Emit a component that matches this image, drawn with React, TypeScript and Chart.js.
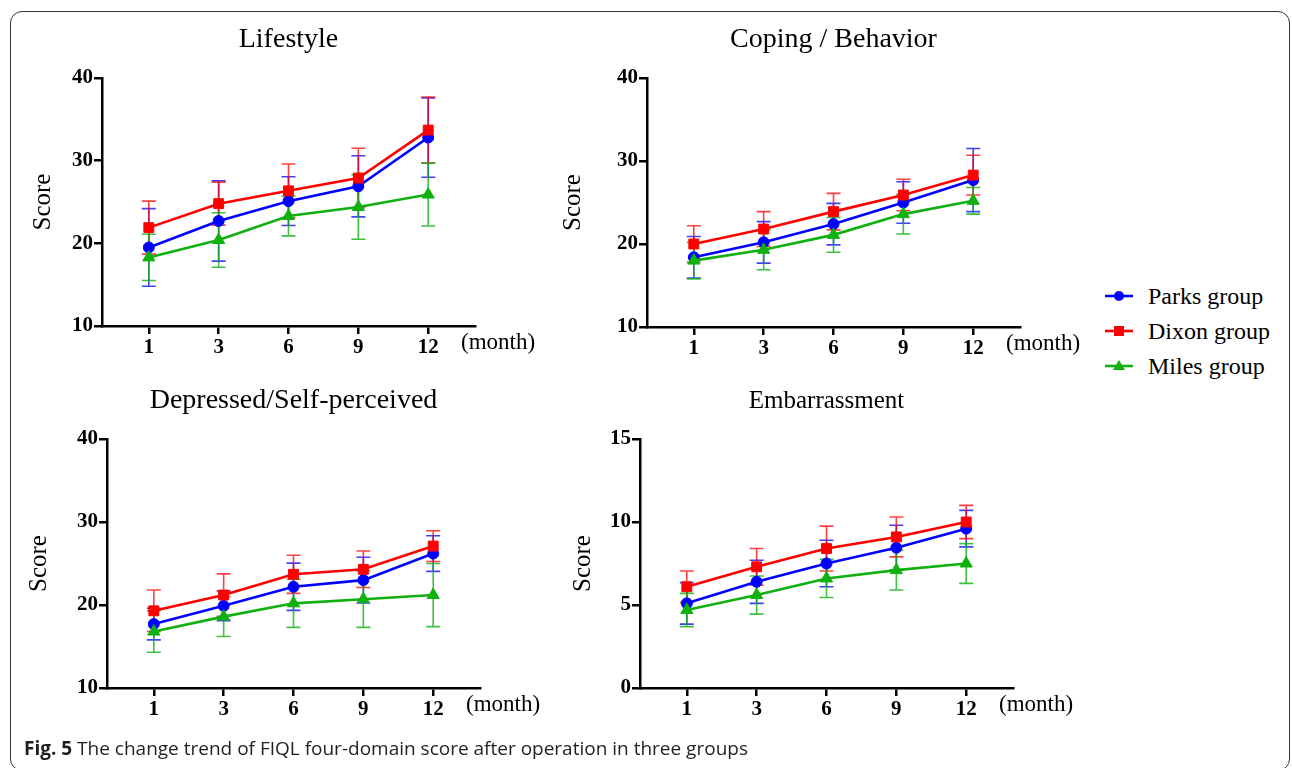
import React, { useEffect, useRef } from 'react';
import { Chart, registerables } from 'chart.js';

Chart.register(...registerables);

// ---------- data ----------
const months = ['1', '3', '6', '9', '12'];
const groupNames = ['Parks group', 'Dixon group', 'Miles group'];

const lifestyleParks = [19.5, 22.7, 25.1, 26.9, 32.8];
const lifestyleParksSD = [4.7, 4.85, 2.95, 3.7, 4.8];
const lifestyleDixon = [21.9, 24.8, 26.35, 27.9, 33.7];
const lifestyleDixonSD = [3.2, 2.6, 3.25, 3.6, 4.0];
const lifestyleMiles = [18.3, 20.4, 23.3, 24.4, 25.9];
const lifestyleMilesSD = [2.8, 3.3, 2.4, 3.9, 3.8];

const copingParks = [18.4, 20.2, 22.4, 25.0, 27.7];
const copingParksSD = [2.5, 2.5, 2.5, 2.5, 3.8];
const copingDixon = [20.0, 21.8, 23.9, 25.9, 28.3];
const copingDixonSD = [2.2, 2.1, 2.2, 1.9, 2.4];
const copingMiles = [18.0, 19.3, 21.1, 23.6, 25.2];
const copingMilesSD = [2.2, 2.4, 2.1, 2.4, 1.6];

const depressedParks = [17.7, 19.9, 22.2, 23.0, 26.2];
const depressedParksSD = [1.9, 1.8, 2.85, 2.75, 2.15];
const depressedDixon = [19.3, 21.2, 23.7, 24.3, 27.1];
const depressedDixonSD = [2.5, 2.55, 2.3, 2.2, 1.85];
const depressedMiles = [16.8, 18.6, 20.2, 20.7, 21.2];
const depressedMilesSD = [2.5, 2.4, 2.9, 3.4, 3.8];

const embarParks = [5.1, 6.4, 7.5, 8.45, 9.6];
const embarParksSD = [1.25, 1.3, 1.4, 1.35, 1.1];
const embarDixon = [6.1, 7.3, 8.4, 9.1, 10.0];
const embarDixonSD = [0.95, 1.1, 1.35, 1.2, 1.0];
const embarMiles = [4.7, 5.6, 6.6, 7.1, 7.5];
const embarMilesSD = [1.0, 1.15, 1.15, 1.2, 1.2];

const lifestyleTicks = [10, 20, 30, 40];
const copingTicks = [10, 20, 30, 40];
const depressedTicks = [10, 20, 30, 40];
const embarTicks = [0, 5, 10, 15];

// ---------- styles ----------
const COLORS = ['#0000FF', '#FF0000', '#10B010'];
const ERR_COLORS = ['rgba(0,0,255,0.75)', 'rgba(255,0,0,0.75)', 'rgba(16,176,16,0.8)'];
const POINT_STYLES = ['circle', 'rect', 'triangle'];
const POINT_RADII = [5.5, 7, 7];
const DRAW_ORDER = [2, 0, 1];
const SERIF = '"Liberation Serif", "Times New Roman", serif';

type PanelCfg = {
  title: string;
  titleSize: number;
  series: number[][];
  errors: number[][];
  yTicks: number[];
  canvasLeft: number;
  canvasTop: number;
  width: number;
  height: number;
  areaLeft: number;
  areaRight: number;
  areaTop: number;
  areaBottom: number;
  scoreOffset: number;
};

const errorBarsPlugin = {
  id: 'errorBars',
  beforeDatasetsDraw(chart: any) {
    const { ctx } = chart;
    const yScale = chart.scales.y;
    ctx.save();
    chart.data.datasets.forEach((ds: any, di: number) => {
      const meta = chart.getDatasetMeta(di);
      ctx.strokeStyle = ERR_COLORS[di];
      ctx.lineWidth = 1.6;
      meta.data.forEach((pt: any, i: number) => {
        const v = ds.data[i].y;
        const e = ds.errors[i];
        const yTop = yScale.getPixelForValue(v + e);
        const yBot = yScale.getPixelForValue(v - e);
        const x = pt.x;
        ctx.beginPath();
        ctx.moveTo(x, yTop);
        ctx.lineTo(x, yBot);
        ctx.moveTo(x - 7, yTop);
        ctx.lineTo(x + 7, yTop);
        ctx.moveTo(x - 7, yBot);
        ctx.lineTo(x + 7, yBot);
        ctx.stroke();
      });
    });
    ctx.restore();
  },
};

function makeTextPlugin(cfg: PanelCfg) {
  return {
    id: 'panelText',
    afterDraw(chart: any) {
      const { ctx, chartArea } = chart;
      ctx.save();
      ctx.fillStyle = '#000';
      ctx.textBaseline = 'middle';
      ctx.textAlign = 'center';
      ctx.font = `${cfg.titleSize}px ${SERIF}`;
      ctx.fillText(cfg.title, (chartArea.left + chartArea.right) / 2, chartArea.top - 38);
      ctx.textAlign = 'left';
      ctx.font = `23px ${SERIF}`;
      ctx.fillText('(month)', chartArea.right - 14, chartArea.bottom + 17);
      ctx.restore();
    },
  };
}

function Panel({ cfg }: { cfg: PanelCfg }) {
  const ref = useRef<HTMLCanvasElement | null>(null);
  useEffect(() => {
    if (!ref.current) return;
    const tickFont = { family: SERIF, size: 21, weight: 'bold' as const };
    const chart = new Chart(ref.current, {
      type: 'line',
      data: {
        datasets: cfg.series.map((vals, gi) => ({
          label: groupNames[gi],
          data: vals.map((v, i) => ({ x: i, y: v })),
          errors: cfg.errors[gi],
          borderColor: COLORS[gi],
          backgroundColor: COLORS[gi],
          pointBackgroundColor: COLORS[gi],
          pointBorderColor: COLORS[gi],
          pointBorderWidth: 1,
          pointStyle: POINT_STYLES[gi],
          pointRadius: POINT_RADII[gi],
          borderWidth: 2.6,
          tension: 0,
          order: DRAW_ORDER[gi],
        })) as any,
      },
      options: {
        responsive: false,
        animation: false,
        events: [],
        layout: {
          padding: {
            left: 0,
            top: cfg.areaTop,
            right: cfg.width - cfg.areaRight,
            bottom: 0,
          },
        },
        plugins: {
          legend: { display: false },
          tooltip: { enabled: false },
        },
        scales: {
          x: {
            type: 'linear',
            min: -0.67,
            max: months.length - 1 + 0.67,
            afterBuildTicks: (axis: any) => {
              axis.ticks = months.map((_, i) => ({ value: i }));
            },
            afterFit: (s: any) => {
              s.height = cfg.height - cfg.areaBottom;
            },
            ticks: {
              callback: (v: any) => months[v as number] ?? '',
              font: tickFont,
              color: '#000',
              padding: 1,
              maxRotation: 0,
              autoSkip: false,
            },
            grid: { drawOnChartArea: false, tickLength: 8, color: '#000', lineWidth: 2.5 },
            border: { color: '#000', width: 2.5 },
          },
          y: {
            min: cfg.yTicks[0],
            max: cfg.yTicks[cfg.yTicks.length - 1],
            afterBuildTicks: (axis: any) => {
              axis.ticks = cfg.yTicks.map((v) => ({ value: v }));
            },
            afterFit: (s: any) => {
              s.width = cfg.areaLeft;
            },
            ticks: {
              font: tickFont,
              color: '#000',
              padding: 1,
            },
            title: {
              display: true,
              text: 'Score',
              color: '#000',
              font: { family: SERIF, size: 25, weight: 'normal' as const },
              padding: { top: cfg.scoreOffset, bottom: 0 },
            },
            grid: { drawOnChartArea: false, tickLength: 8, color: '#000', lineWidth: 2.5 },
            border: { color: '#000', width: 2.5 },
          },
        },
      } as any,
      plugins: [errorBarsPlugin, makeTextPlugin(cfg)],
    });
    return () => chart.destroy();
  }, [cfg]);
  return (
    <canvas
      ref={ref}
      width={cfg.width}
      height={cfg.height}
      style={{
        position: 'absolute',
        left: cfg.canvasLeft,
        top: cfg.canvasTop,
        width: cfg.width,
        height: cfg.height,
      }}
    />
  );
}

const panels: PanelCfg[] = [
  {
    title: 'Lifestyle', titleSize: 28,
    series: [lifestyleParks, lifestyleDixon, lifestyleMiles],
    errors: [lifestyleParksSD, lifestyleDixonSD, lifestyleMilesSD],
    yTicks: lifestyleTicks,
    canvasLeft: 0, canvasTop: 0, width: 545, height: 384,
    areaLeft: 102, areaRight: 475, areaTop: 78, areaBottom: 326, scoreOffset: 28,
  },
  {
    title: 'Coping / Behavior', titleSize: 28,
    series: [copingParks, copingDixon, copingMiles],
    errors: [copingParksSD, copingDixonSD, copingMilesSD],
    yTicks: copingTicks,
    canvasLeft: 545, canvasTop: 0, width: 545, height: 384,
    areaLeft: 102, areaRight: 475, areaTop: 78, areaBottom: 327, scoreOffset: 13,
  },
  {
    title: 'Depressed/Self-perceived', titleSize: 28,
    series: [depressedParks, depressedDixon, depressedMiles],
    errors: [depressedParksSD, depressedDixonSD, depressedMilesSD],
    yTicks: depressedTicks,
    canvasLeft: 0, canvasTop: 384, width: 545, height: 384,
    areaLeft: 107, areaRight: 480, areaTop: 55, areaBottom: 304, scoreOffset: 24,
  },
  {
    title: 'Embarrassment', titleSize: 25,
    series: [embarParks, embarDixon, embarMiles],
    errors: [embarParksSD, embarDixonSD, embarMilesSD],
    yTicks: embarTicks,
    canvasLeft: 545, canvasTop: 384, width: 545, height: 384,
    areaLeft: 95, areaRight: 468, areaTop: 55, areaBottom: 304, scoreOffset: 23,
  },
];

function LegendMarker({ gi }: { gi: number }) {
  const c = COLORS[gi];
  return (
    <svg width={30} height={16} style={{ position: 'absolute', left: 0, top: 0 }}>
      <line x1={1} y1={8} x2={29} y2={8} stroke={c} strokeWidth={2.6} />
      {gi === 0 && <circle cx={15} cy={8} r={5} fill={c} />}
      {gi === 1 && <rect x={10} y={3} width={10} height={10} fill={c} />}
      {gi === 2 && <polygon points="15,2 21,12 9,12" fill={c} />}
    </svg>
  );
}

const legendRowsY = [296, 331, 366];

export default function App() {
  return (
    <div
      style={{
        position: 'absolute',
        left: 0,
        top: 0,
        width: 1292,
        height: 768,
        background: '#fff',
        overflow: 'hidden',
      }}
    >
      <div
        style={{
          position: 'absolute',
          left: 10,
          top: 11,
          width: 1280,
          height: 760,
          border: '1.5px solid #333',
          borderRadius: 12,
          boxSizing: 'border-box',
        }}
      />
      {panels.map((p) => (
        <Panel key={p.title} cfg={p} />
      ))}
      {groupNames.map((name, gi) => (
        <div key={name}>
          <div style={{ position: 'absolute', left: 1104, top: legendRowsY[gi] - 8, width: 30, height: 16 }}>
            <LegendMarker gi={gi} />
          </div>
          <div
            style={{
              position: 'absolute',
              left: 1148,
              top: legendRowsY[gi] - 15,
              height: 30,
              lineHeight: '30px',
              fontFamily: SERIF,
              fontSize: 24,
              color: '#000',
              whiteSpace: 'nowrap',
            }}
          >
            {name}
          </div>
        </div>
      ))}
      <div
        style={{
          position: 'absolute',
          left: 24,
          top: 736,
          lineHeight: '24px',
          fontFamily: '"Open Sans", "Noto Sans", sans-serif',
          fontSize: 19,
          color: '#231f20',
          whiteSpace: 'nowrap',
        }}
      >
        <b>Fig. 5</b> The change trend of FIQL four-domain score after operation in three groups
      </div>
    </div>
  );
}
